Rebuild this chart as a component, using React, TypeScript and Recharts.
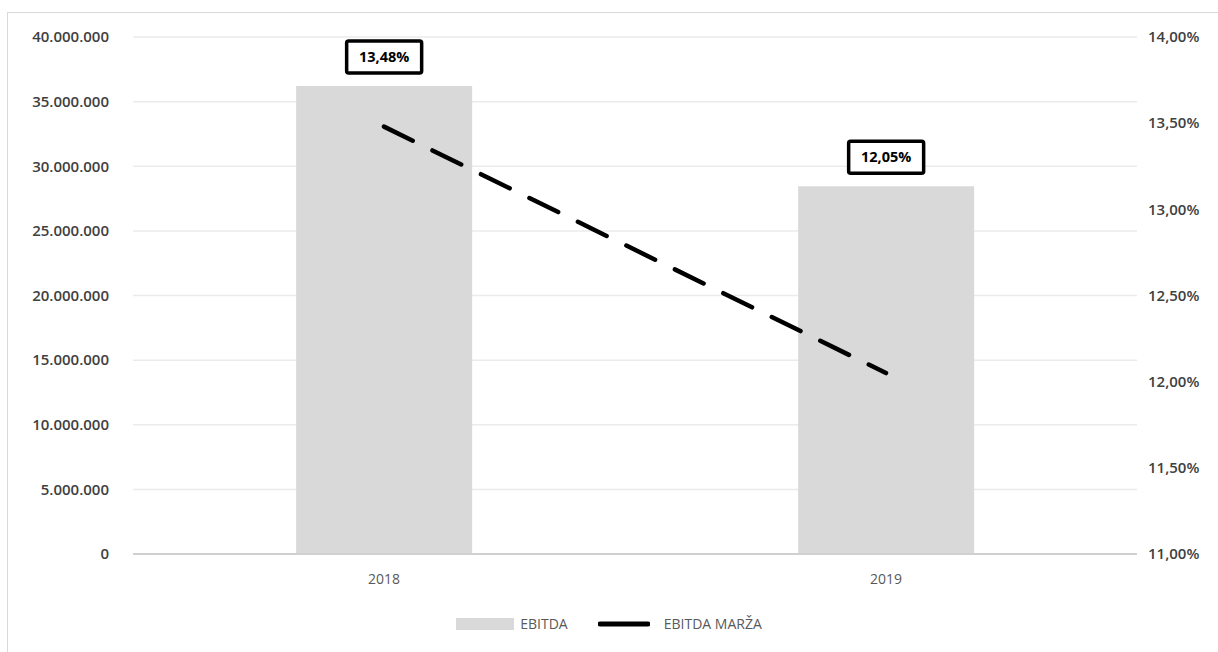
import React from 'react';
import { ComposedChart, Bar, Line, XAxis, YAxis, CartesianGrid, Legend, LabelList } from 'recharts';

const years = ['2018', '2019'];
const ebitda = [36200000, 28450000];
const margin = [13.48, 12.05];
const leftTicks = [0, 5000000, 10000000, 15000000, 20000000, 25000000, 30000000, 35000000, 40000000];
const rightTicks = [11, 11.5, 12, 12.5, 13, 13.5, 14];

const data = years.map((y, i) => ({ year: y, ebitda: ebitda[i], margin: margin[i] }));

const FONT = '"Open Sans", "Liberation Sans", sans-serif';

const fmtNum = (v: number) => String(Math.round(v)).replace(/\B(?=(\d{3})+(?!\d))/g, '.');
const fmtPct = (v: number) => v.toFixed(2).replace('.', ',') + '%';

const BoxLabel = (props: any) => {
  const { x, y, width, value } = props;
  const cx = x + width / 2;
  const w = 75;
  const h = 32;
  const top = y - 13 - h;
  return (
    <g>
      <rect x={cx - w / 2} y={top} width={w} height={h} rx={2} fill="#ffffff" stroke="#000000" strokeWidth={3.5} />
      <text x={cx} y={top + h / 2 + 1} textAnchor="middle" dominantBaseline="middle" fontFamily={FONT} fontWeight={700} fontSize={14.5} fill="#000">
        {fmtPct(value)}
      </text>
    </g>
  );
};

const LegendContent = () => (
  <div style={{ display: 'flex', justifyContent: 'center', alignItems: 'center', fontFamily: FONT, fontSize: 14, color: '#595959', paddingLeft: 0 }}>
    <span style={{ display: 'inline-block', width: 58, height: 12, background: '#d9d9d9', marginRight: 6 }} />
    <span style={{ marginRight: 30 }}>EBITDA</span>
    <svg width={52} height={8} style={{ marginRight: 14 }}>
      <line x1={2} y1={4} x2={50} y2={4} stroke="#000" strokeWidth={5} strokeLinecap="round" />
    </svg>
    <span>EBITDA MARŽA</span>
  </div>
);

export default function App() {
  return (
    <div style={{ position: 'absolute', left: 0, top: 0, width: 1218, height: 652, background: '#fff', overflow: 'hidden' }}>
      <div style={{ position: 'absolute', left: 7, top: 12, width: 1230, height: 660, border: '1.5px solid #d9d9d9', boxSizing: 'border-box' }} />
      <ComposedChart
        width={1218}
        height={652}
        data={data}
        margin={{ top: 37, right: 0, bottom: 0, left: 0 }}
        barCategoryGap="32.5%"
        style={{ position: 'absolute', left: 0, top: 0 }}
      >
        <CartesianGrid vertical={false} stroke="#ebebeb" strokeWidth={1.5} yAxisId="left" />
        <XAxis
          dataKey="year"
          axisLine={{ stroke: '#d0d0d0', strokeWidth: 2 }}
          tickLine={false}
          tick={{ fontFamily: FONT, fontSize: 14, fill: '#595959' }}
          tickMargin={14}
          height={50}
        />
        <YAxis
          yAxisId="left"
          domain={[0, 40000000]}
          ticks={leftTicks}
          tickFormatter={fmtNum}
          axisLine={false}
          tickLine={false}
          width={133}
          tickMargin={18}
          tick={{ fontFamily: FONT, fontSize: 15, fontWeight: 600, fill: '#404040' }}
        />
        <YAxis
          yAxisId="right"
          orientation="right"
          domain={[11, 14]}
          ticks={rightTicks}
          tickFormatter={fmtPct}
          axisLine={false}
          tickLine={false}
          width={81}
          tickMargin={5}
          tick={{ fontFamily: FONT, fontSize: 15, fontWeight: 600, fill: '#404040' }}
        />
        <Legend verticalAlign="bottom" height={38} content={<LegendContent />} wrapperStyle={{ paddingTop: 10 }} />
        <Bar yAxisId="left" dataKey="ebitda" name="EBITDA" fill="#d9d9d9" isAnimationActive={false}>
          <LabelList dataKey="margin" content={<BoxLabel />} />
        </Bar>
        <Line
          yAxisId="right"
          dataKey="margin"
          name="EBITDA MARŽA"
          stroke="#000000"
          strokeWidth={4.5}
          strokeDasharray="32 22"
          strokeLinecap="round"
          dot={false}
          activeDot={false}
          isAnimationActive={false}
        />
      </ComposedChart>
    </div>
  );
}
